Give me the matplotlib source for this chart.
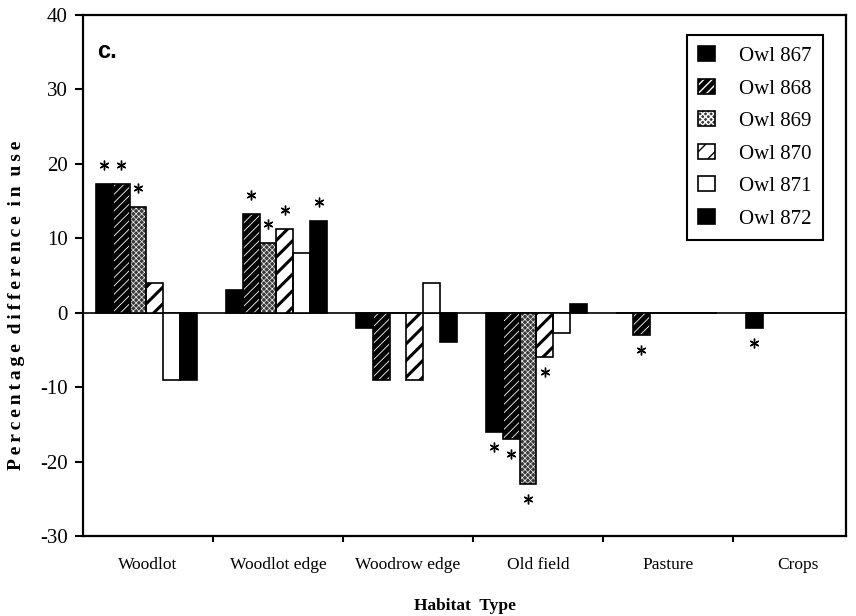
import matplotlib
matplotlib.use("Agg")
import matplotlib.pyplot as plt
import numpy as np
from matplotlib.patches import Patch
from matplotlib.transforms import offset_copy

plt.rcParams["font.family"] = "Liberation Serif"
plt.rcParams["axes.unicode_minus"] = False

habitats = ["Woodlot", "Woodlot edge", "Woodrow edge", "Old field", "Pasture", "Crops"]
owls = ["Owl 867", "Owl 868", "Owl 869", "Owl 870", "Owl 871", "Owl 872"]

# percentage difference in use, one list per owl (habitat order as above)
owl867 = [17.3, 3, -2, -16, 0, -2]
owl868 = [17.3, 13.3, -9, -17, -3, 0]
owl869 = [14.2, 9.4, 0, -23, 0, 0]
owl870 = [4, 11.3, -9, -6, 0, 0]
owl871 = [-9, 8, 4, -2.7, 0, 0]
owl872 = [-9, 12.3, -4, 1.2, 0, 0]
values = [owl867, owl868, owl869, owl870, owl871, owl872]

# significant differences: (owl index, habitat index)
signif = [(0, 0), (1, 0), (2, 0),
          (1, 1), (2, 1), (3, 1), (5, 1),
          (0, 3), (1, 3), (2, 3), (3, 3),
          (1, 4), (0, 5)]

styles = [
    dict(face="black", hatch=None, hcolor="black", hlw=1.0),
    dict(face="black", hatch="////", hcolor="white", hlw=0.6),
    dict(face="#3a3a3a", hatch="xxxxxx", hcolor="white", hlw=0.45),
    dict(face="white", hatch="//", hcolor="black", hlw=2.2),
    dict(face="white", hatch=None, hcolor="white", hlw=1.0),
    dict(face="black", hatch=None, hcolor="black", hlw=1.0),
]


def styled_bars(ax, x, h, width, st):
    with plt.rc_context({"hatch.linewidth": st["hlw"]}):
        fill = ax.bar(x, h, width, color=st["face"], edgecolor=st["hcolor"],
                      hatch=st["hatch"], linewidth=0, zorder=2)
    for p in fill:
        if hasattr(p, "set_hatch_linewidth"):
            p.set_hatch_linewidth(st["hlw"])
    ax.bar(x, h, width, fill=False, edgecolor="black", linewidth=1.2, zorder=3)


def spaced(text):
    # letter-spaced label, like the original typesetting
    return "  ".join("\u2009".join(w) for w in text.split())


fig = plt.figure(figsize=(8.56, 6.16), dpi=100)
ax = fig.add_axes([83 / 856, 80 / 616, 763 / 856, 521 / 616])

x = np.arange(len(habitats)) - 0.012
width = 0.13
for k, (vals, st) in enumerate(zip(values, styles)):
    styled_bars(ax, x + (k - 2.5) * width, vals, width, st)

ax.axhline(0, color="black", linewidth=1.2, zorder=1)

above = offset_copy(ax.transData, fig=fig, y=19, units="dots")
below = offset_copy(ax.transData, fig=fig, y=-15, units="dots")
for k, i in signif:
    v = values[k][i]
    xs = x[i] + (k - 2.5) * width
    ax.plot(xs, v, marker=(6, 2, 0), ms=7, mew=1.0, color="black",
            transform=above if v >= 0 else below)

ax.set_xlim(-0.5, -0.5 + 763 / 130)
ax.set_ylim(-30, 40)
ax.set_yticks(np.arange(-30, 41, 10))
ax.set_xticks(np.arange(len(habitats)))
ax.set_xticklabels(habitats, fontsize=12.5)
ax.set_xticks(np.arange(len(habitats) - 1) + 0.5, minor=True)
ax.tick_params(axis="x", which="major", length=0, pad=15)
ax.tick_params(axis="x", which="minor", length=4, width=1.5, direction="out")
ax.tick_params(axis="y", length=6, width=1.5, direction="out", labelsize=15, pad=5)
for s in ax.spines.values():
    s.set_linewidth(1.6)

ax.set_xlabel("Habitat  Type", fontsize=12.5, fontweight="bold", labelpad=18)
ax.set_ylabel(spaced("Percentage difference in use"), fontsize=14, fontweight="bold")
ax.yaxis.set_label_coords(-0.076, 0.443)

ax.text(0.018, 0.917, "c.", transform=ax.transAxes, fontsize=17,
        fontweight="bold", family="Liberation Sans")

handles = []
for st in styles:
    hp = Patch(facecolor=st["face"], edgecolor=st["hcolor"], hatch=st["hatch"], linewidth=0)
    if hasattr(hp, "set_hatch_linewidth"):
        hp.set_hatch_linewidth(st["hlw"])
    handles.append((hp, Patch(fill=False, edgecolor="black", linewidth=1.2)))
leg = ax.legend(handles, owls, loc="upper right",
                bbox_to_anchor=(823 / 856, 1 - 35 / 616), bbox_transform=fig.transFigure,
                fancybox=False, edgecolor="black", framealpha=1, borderaxespad=0,
                fontsize=15, handlelength=0.8, handleheight=0.7, handletextpad=1.15,
                labelspacing=0.62, borderpad=0.55)
leg.get_frame().set_linewidth(1.5)

fig.savefig("out.png", dpi=100)
